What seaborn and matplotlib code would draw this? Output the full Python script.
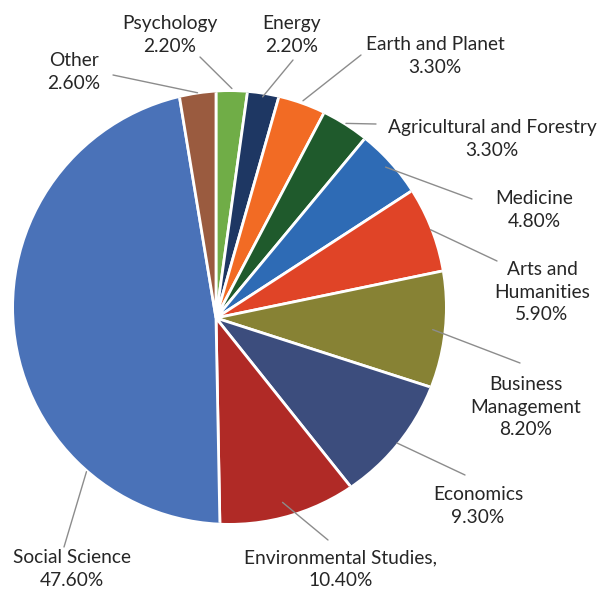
import matplotlib
matplotlib.use("Agg")
import matplotlib.pyplot as plt
from matplotlib.path import Path
import seaborn as sns
import numpy as np

# ---- data ----
categories = ["Psychology", "Energy", "Earth and Planet", "Agricultural and Forestry",
              "Medicine", "Arts and Humanities", "Business Management", "Economics",
              "Environmental Studies,", "Social Science", "Other"]
values = [2.2, 2.2, 3.3, 3.3, 4.8, 5.9, 8.2, 9.3, 10.4, 47.6, 2.6]
label_names = ["Psychology", "Energy", "Earth and Planet", "Agricultural and Forestry",
               "Medicine", "Arts and\nHumanities", "Business\nManagement", "Economics",
               "Environmental Studies,", "Social Science", "Other"]

# ---- styles / layout ----
colors = ["#70AD47", "#1E3763", "#F26B24", "#1F5A2C", "#2E6BB5", "#E04427",
          "#878234", "#3C4D7D", "#B02A26", "#4A72B8", "#9A5B3F"]
label_xy = [(170, 35), (292, 35), (435, 56), (492, 139), (534, 210), (542, 292),
            (526, 407), (478, 506), (341, 569), (72, 569), (74, 72)]
anchor_r = [230, 226, 234, 234, 227, 232, 217, 220, 196, 201, 226]
anchor_f = [0.5, 0.5, 0.5, 0.5, 0.5, 0.5, 0.5, 0.5, 0.5, 0.24, 0.5]
line_end = [(200, 57), (293, 60), (361, 55), (376, 124), (472, 199), (497, 261),
            (520, 363), (465, 475), (328, 540), (64, 547), (113, 75)]

W, H = 600, 589
sns.set_theme(style="white")
plt.rcParams["font.family"] = ["Lato", "DejaVu Sans"]

fig = plt.figure(figsize=(W / 100, H / 100), dpi=100)
ax = fig.add_axes([0, 0, 1, 1])

vertex = (216, H - 318)
wedges, _ = ax.pie(values, colors=colors, startangle=90, counterclock=False,
                   center=vertex, radius=240,
                   wedgeprops=dict(edgecolor="white", linewidth=2))
ax.set_xlim(0, W)
ax.set_ylim(0, H)
ax.set_aspect("equal")

rim = Path.circle((229.5, H - 307.5), 215.5)
for w in wedges:
    w.set_clip_on(True)
    w.set_clip_path(rim, ax.transData)

for w, name, v, (tx, ty), r, f, (ex, ey) in zip(wedges, label_names, values, label_xy,
                                                  anchor_r, anchor_f, line_end):
    ang = np.deg2rad(w.theta2 - f * (w.theta2 - w.theta1))
    ax_ = vertex[0] + r * np.cos(ang)
    ay_ = vertex[1] + r * np.sin(ang)
    ax.plot([ax_, ex], [ay_, H - ey], color="#8c8c8c", lw=1.0, zorder=3)
    ax.text(tx, H - ty, f"{name}\n{v:.2f}%", ha="center", va="center",
            fontsize=13.8, color="#262626", linespacing=1.38, zorder=4)

ax.axis("off")
fig.savefig("out.png", dpi=100)
